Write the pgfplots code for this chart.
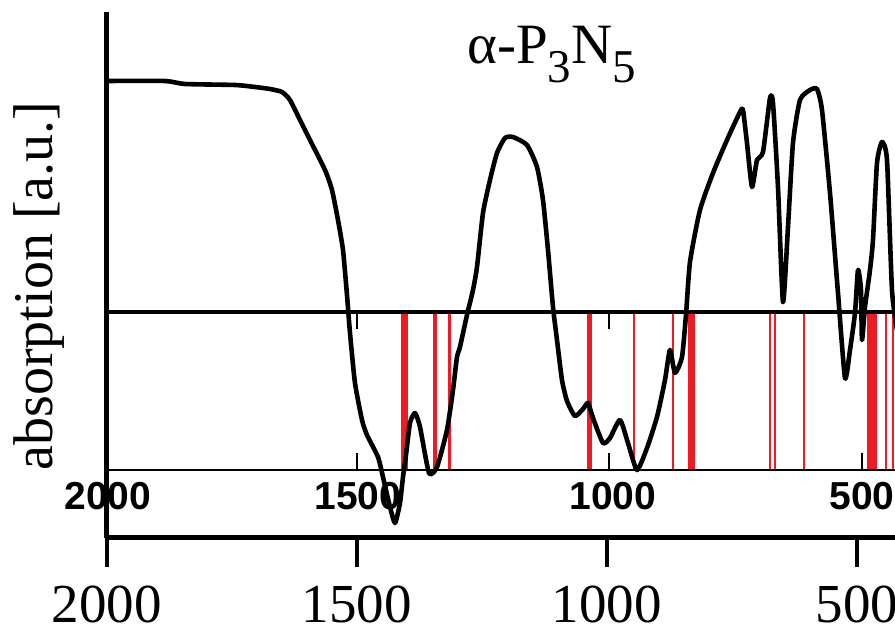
\documentclass[border=0pt]{standalone}
\usepackage{fontspec}
\setmainfont{Liberation Serif}
\newfontfamily\insetfont{Liberation Sans}
\usepackage{pgfplots}
\pgfplotsset{compat=1.18}
\definecolor{linered}{RGB}{237,28,36}
\begin{document}
\begin{tikzpicture}
\useasboundingbox (0,0) rectangle (447.5pt,313pt);
\clip (0,0) rectangle (447.5pt,313pt);
\begin{axis}[at={(53.5pt,44pt)}, anchor=south west, scale only axis, clip=false,
  width=400pt, height=263pt, x dir=reverse, xmin=400, xmax=2000, ymin=0, ymax=526,
  axis x line*=bottom, axis y line*=left,
  axis line style={line width=2.5pt, line cap=square},
  ytick=\empty, xtick={2000,1500,1000,500}, xticklabels={2000,1500,1000,500},
  tick align=outside, major tick length=14.5pt, tick style={line width=2pt, black},
  xticklabel style={font=\fontsize{27.5}{27.5}\selectfont, anchor=base, yshift=-28pt},
  ylabel={absorption [a.u.]},
  ylabel style={at={(axis description cs:-0.0675,0.479)}, anchor=base, font=\fontsize{28}{28}\selectfont}]
% calculated bands (inset, between y=68 and y=226)
\addplot[linered, line width=3.5pt, mark=none] coordinates {(1404,68) (1404,226)};
\addplot[linered, line width=2pt, mark=none] coordinates {(1344,68) (1344,226)};
\addplot[linered, line width=1.3pt, mark=none] coordinates {(1315,68) (1315,226)};
\addplot[linered, line width=2.5pt, mark=none] coordinates {(1034,68) (1034,226)};
\addplot[linered, line width=1pt, mark=none] coordinates {(946,68) (946,226)};
\addplot[linered, line width=1pt, mark=none] coordinates {(868,68) (868,226)};
\addplot[linered, line width=3.5pt, mark=none] coordinates {(831,68) (831,226)};
\addplot[linered, line width=1pt, mark=none] coordinates {(674,68) (674,226)};
\addplot[linered, line width=1pt, mark=none] coordinates {(664,68) (664,226)};
\addplot[linered, line width=1pt, mark=none] coordinates {(605,68) (605,226)};
\addplot[linered, line width=5pt, mark=none] coordinates {(470,68) (470,226)};
\addplot[linered, line width=1pt, mark=none] coordinates {(442,68) (442,226)};
\addplot[linered, line width=1pt, mark=none] coordinates {(428,68) (428,226)};
% inset frame (top thick, bottom thin) and inward ticks
\addplot[black, line width=2.4pt, mark=none] coordinates {(2000,226) (380,226)};
\addplot[black, line width=1.3pt, mark=none] coordinates {(2000,68) (380,68)};
\addplot[black, line width=1.3pt, mark=none] coordinates {(1500,226) (1500,209)};
\addplot[black, line width=1.3pt, mark=none] coordinates {(996,226) (996,209)};
\addplot[black, line width=1.3pt, mark=none] coordinates {(490,226) (490,209)};
\addplot[black, line width=1.3pt, mark=none] coordinates {(1500,68) (1500,85)};
\addplot[black, line width=1.3pt, mark=none] coordinates {(996,68) (996,85)};
\addplot[black, line width=1.3pt, mark=none] coordinates {(490,68) (490,85)};
% spectrum
\addplot[black, line width=2.3pt, line join=round, smooth, tension=0.35, mark=none] table[x=wn, y=a] {
wn a
2000 457
1884 457
1844 454
1744 453
1704 451
1674 449
1650 446
1634 438
1614 418
1594 398
1564 368
1550 348
1538 318
1528 288
1520 243
1514 205
1504 155
1490 118
1480 103
1458 81
1448 61
1434 31
1424 15
1414 35
1408 61
1402 83
1394 115
1384 125
1374 111
1356 65
1340 71
1320 108
1308 148
1300 181
1294 191
1280 223
1268 248
1260 271
1248 325
1234 358
1220 385
1204 400
1188 401
1160 393
1140 371
1128 338
1118 288
1108 231
1100 198
1090 158
1080 137
1064 122
1048 129
1038 135
1028 120
1008 95
994 100
974 118
958 95
940 68
920 90
900 121
884 158
874 188
864 165
850 181
842 223
834 276
814 328
788 365
760 398
734 426
728 428
720 395
710 351
700 378
688 386
674 440
668 435
658 351
648 236
638 311
628 395
614 438
594 448
580 449
570 428
554 345
538 245
524 160
514 188
504 225
498 268
492 248
490 198
484 231
474 268
468 298
460 375
450 396
440 378
430 248
420 208
};
% inset tick labels
\node[anchor=base, inner sep=0pt, font=\insetfont\bfseries\fontsize{19.5}{19.5}\selectfont] at (axis cs:1998,28) {2000};
\node[anchor=base, inner sep=0pt, font=\insetfont\bfseries\fontsize{19.5}{19.5}\selectfont] at (axis cs:1498,28) {1500};
\node[anchor=base, inner sep=0pt, font=\insetfont\bfseries\fontsize{19.5}{19.5}\selectfont] at (axis cs:988,28) {1000};
\node[anchor=base, inner sep=0pt, font=\insetfont\bfseries\fontsize{19.5}{19.5}\selectfont] at (axis cs:490,28) {500};
% title
\node[anchor=base west, inner sep=0pt, font=\fontsize{28.5}{28.5}\selectfont] at (rel axis cs:0.45,0.903)
  {α-P\raisebox{-9.5pt}{\fontsize{23.5}{23.5}\selectfont 3}N\raisebox{-9.5pt}{\fontsize{23.5}{23.5}\selectfont 5}};
\end{axis}
\end{tikzpicture}
\end{document}
